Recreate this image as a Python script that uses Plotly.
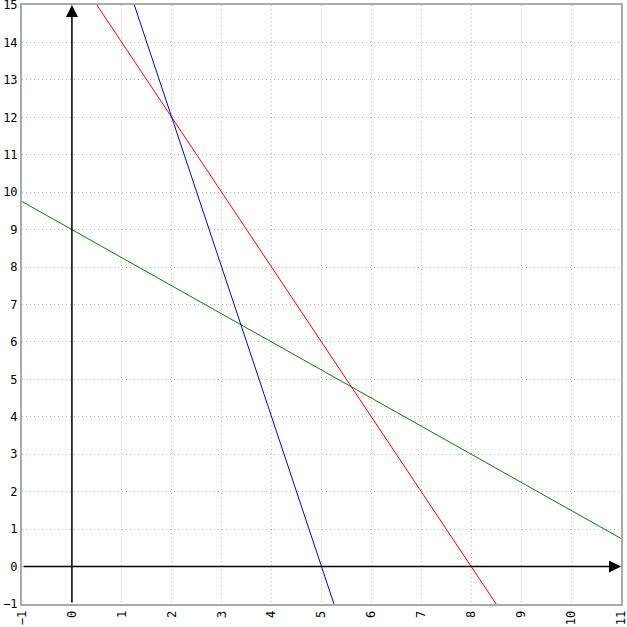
import plotly.graph_objects as go

# rectas (puntos extremos)
red_x = [0.5, 8.5]
red_y = [15, -1]
blue_x = [1.25, 5.25]
blue_y = [15, -1]
green_x = [-1, 11]
green_y = [9.75, 0.75]

x_ticks = list(range(-1, 12))
y_ticks = list(range(-1, 16))

fig = go.Figure()
for xs, ys, col in [(green_x, green_y, "green"), (red_x, red_y, "red"), (blue_x, blue_y, "blue")]:
    fig.add_trace(go.Scatter(x=xs, y=ys, mode="lines", line=dict(color=col, width=1),
                             showlegend=False, hoverinfo="skip"))

# ejes con flecha
fig.add_annotation(x=0, y=15, ax=0, ay=-1, xref="x", yref="y", axref="x", ayref="y",
                   showarrow=True, arrowhead=2, arrowsize=1.6, arrowwidth=1.5, arrowcolor="black", text="")
fig.add_annotation(x=11, y=0, ax=-1, ay=0, xref="x", yref="y", axref="x", ayref="y",
                   showarrow=True, arrowhead=2, arrowsize=1.6, arrowwidth=1.5, arrowcolor="black", text="")

axis_common = dict(showgrid=True, gridcolor="#b8b8b8", griddash="1px,3px", gridwidth=1,
                   zeroline=False, showline=True, linecolor="#aaaaaa", linewidth=2, mirror=True,
                   ticks="", automargin=False, ticklabeloverflow="allow",
                   tickfont=dict(family="DejaVu Sans Mono", size=12, color="black"))

fig.update_xaxes(range=[-1, 11], tickvals=x_ticks, tickangle=-90, **axis_common)
fig.update_yaxes(range=[-1, 15], tickvals=y_ticks, **axis_common)

fig.update_layout(width=627, height=627, plot_bgcolor="white", paper_bgcolor="white",
                  margin=dict(l=22, r=6, t=5, b=23))

# quitar el margen por defecto del body para que la figura ocupe toda la ventana
fig.write_html("out.html", config={"displayModeBar": False},
               post_script="document.body.style.margin='0';")
